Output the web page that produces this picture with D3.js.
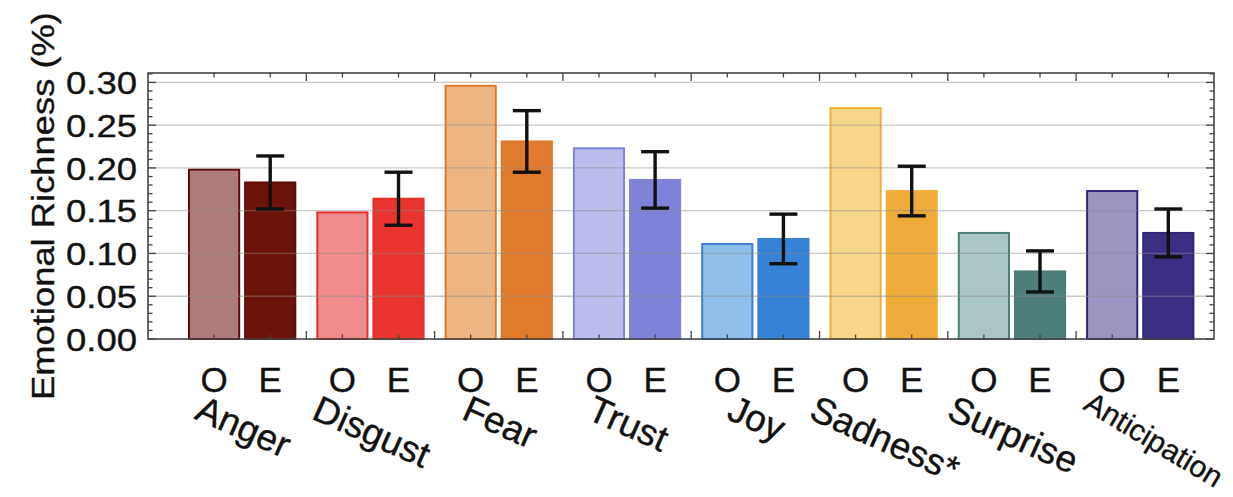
<!DOCTYPE html>
<html>
<head>
<meta charset="utf-8">
<script src="https://cdn.jsdelivr.net/npm/d3@7"></script>
<style>
  html, body { margin: 0; padding: 0; background: #fff; }
  svg { display: block; }
  text { font-family: "Liberation Sans", Arial, Helvetica, sans-serif; fill: #111; stroke: #111; stroke-width: 0.35px; }
</style>
</head>
<body>
<svg id="chart" width="1233" height="497"></svg>
<script>
// Emotion categories and the two conditions shown per category
const categories = ["Anger", "Disgust", "Fear", "Trust", "Joy", "Sadness*", "Surprise", "Anticipation"];
const conditions = ["O", "E"];

// Emotional richness per category (O = observed, E = expected with error)
const observed = [0.198, 0.148, 0.296, 0.223, 0.111, 0.270, 0.124, 0.173];
const expected = [0.183, 0.164, 0.231, 0.186, 0.117, 0.173, 0.079, 0.124];
const expectedErr = [0.031, 0.031, 0.036, 0.033, 0.029, 0.029, 0.024, 0.028];

// Axis ticks
const yTickValues = [0.00, 0.05, 0.10, 0.15, 0.20, 0.25, 0.30];
const yTickLabels = ["0.00", "0.05", "0.10", "0.15", "0.20", "0.25", "0.30"];
const yMinorValues = [0.01, 0.02, 0.03, 0.04, 0.06, 0.07, 0.08, 0.09, 0.11, 0.12, 0.13, 0.14,
                      0.16, 0.17, 0.18, 0.19, 0.21, 0.22, 0.23, 0.24, 0.26, 0.27, 0.28, 0.29, 0.31];

// Palette: light fill for O, saturated fill for E, outline per category
const observedFill = ["#b07c7b", "#f08b8e", "#ecb582", "#bcbdec", "#8ebfea", "#f5d68b", "#a9c5c4", "#9d96c2"];
const expectedFill = ["#6c130c", "#e8342d", "#e07a2c", "#7f82d9", "#3682d6", "#eeab39", "#4e7f7b", "#3a2f83"];
const outline      = ["#5e0e0a", "#e5302b", "#e0782c", "#8184d8", "#3a80cf", "#efb035", "#4a7c78", "#2f2677"];

const W = 1233;
const svg = d3.select("#chart");

// Plot frame
const frame = { left: 148, right: 1214, top: 73, bottom: 339 };
const bandStart = 178, bandEnd = 1204.4;

const x = d3.scaleBand().domain(categories).range([bandStart, bandEnd]).padding(0);
const xSub = d3.scaleBand().domain(conditions)
  .range([10, x.bandwidth() - 10]).paddingInner(0.07).paddingOuter(0);
const y = d3.scaleLinear().domain([0, 0.311]).range([frame.bottom, frame.top]);

// Build rows for bars
const rows = [];
categories.forEach((c, i) => {
  rows.push({ cat: c, cond: "O", value: observed[i], fill: observedFill[i], stroke: outline[i], i });
  rows.push({ cat: c, cond: "E", value: expected[i], err: expectedErr[i], fill: expectedFill[i], stroke: outline[i], i });
});

// Bars
const barG = svg.append("g");
barG.selectAll("rect").data(rows).join("rect")
  .attr("x", d => x(d.cat) + xSub(d.cond) + 1)
  .attr("y", d => y(d.value))
  .attr("width", xSub.bandwidth() - 2)
  .attr("height", d => y(0) - y(d.value))
  .attr("fill", d => d.fill)
  .attr("stroke", d => d.stroke)
  .attr("stroke-width", 2);

// Horizontal grid lines, drawn over the bars
svg.append("g").selectAll("line").data(yTickValues.slice(1)).join("line")
  .attr("x1", frame.left).attr("x2", frame.right)
  .attr("y1", d => y(d)).attr("y2", d => y(d))
  .attr("stroke", "#8a8a8a").attr("stroke-opacity", 0.45).attr("stroke-width", 1.3);

// Error bars on E
const errRows = rows.filter(d => d.err != null);
const cx = d => x(d.cat) + xSub(d.cond) + xSub.bandwidth() / 2;
const errG = svg.append("g").attr("stroke", "#111").attr("stroke-width", 3.4);
errG.selectAll("line.v").data(errRows).join("line").attr("class", "v")
  .attr("x1", cx).attr("x2", cx)
  .attr("y1", d => y(d.value + d.err)).attr("y2", d => y(d.value - d.err));
errG.selectAll("line.t").data(errRows).join("line").attr("class", "t")
  .attr("x1", d => cx(d) - 14).attr("x2", d => cx(d) + 14)
  .attr("y1", d => y(d.value + d.err)).attr("y2", d => y(d.value + d.err));
errG.selectAll("line.b").data(errRows).join("line").attr("class", "b")
  .attr("x1", d => cx(d) - 14).attr("x2", d => cx(d) + 14)
  .attr("y1", d => y(d.value - d.err)).attr("y2", d => y(d.value - d.err));

// Frame
svg.append("rect")
  .attr("x", frame.left).attr("y", frame.top)
  .attr("width", frame.right - frame.left).attr("height", frame.bottom - frame.top)
  .attr("fill", "none").attr("stroke", "#444").attr("stroke-width", 1.6);

// Inward y ticks on both sides (major and minor)
function yTicks(xPos, dir, values, len) {
  svg.append("g").selectAll("line").data(values).join("line")
    .attr("x1", xPos).attr("x2", xPos + dir * len)
    .attr("y1", d => y(d)).attr("y2", d => y(d))
    .attr("stroke", "#444").attr("stroke-width", 1.3);
}
yTicks(frame.left, 1, yTickValues, 8);
yTicks(frame.left, 1, yMinorValues, 4.5);
yTicks(frame.right, -1, yTickValues, 8);
yTicks(frame.right, -1, yMinorValues, 4.5);

// Top/bottom ticks: short at bar centres, longer between categories
const centreTicks = rows.map(d => cx(d));
const groupTicks = categories.slice(1).map(c => x(c));
function xTicks(yPos, dir, values, len) {
  svg.append("g").selectAll("line").data(values).join("line")
    .attr("x1", d => d).attr("x2", d => d)
    .attr("y1", yPos).attr("y2", yPos + dir * len)
    .attr("stroke", "#444").attr("stroke-width", 1.3);
}
xTicks(frame.top, 1, centreTicks, 4.5);
xTicks(frame.top, 1, groupTicks, 8);
xTicks(frame.bottom, -1, centreTicks, 4.5);
xTicks(frame.bottom, -1, groupTicks, 8);

// Y axis labels
const yAxis = d3.axisLeft(y).tickValues(yTickValues)
  .tickFormat((d, i) => yTickLabels[i]).tickSize(0).tickPadding(11);
const yAxisG = svg.append("g").attr("transform", `translate(${frame.left},0)`).call(yAxis);
yAxisG.select(".domain").remove();
yAxisG.selectAll("text")
  .attr("font-size", 31)
  .attr("dy", "0.36em")
  .attr("textLength", 71).attr("lengthAdjust", "spacingAndGlyphs")
  .style("font-family", "'Liberation Sans', Arial, sans-serif")
  .attr("fill", "#111");

// Y axis title
svg.append("text")
  .attr("transform", `translate(54,${(frame.top + frame.bottom) / 2}) rotate(-90)`)
  .attr("text-anchor", "middle")
  .attr("font-size", 31)
  .attr("textLength", 388).attr("lengthAdjust", "spacingAndGlyphs")
  .text("Emotional Richness (%)");

// O / E labels under each bar
svg.append("g").selectAll("text").data(rows).join("text")
  .attr("x", cx).attr("y", 392)
  .attr("text-anchor", "middle")
  .attr("font-size", 35)
  .text(d => d.cond);

// Rotated category labels, centred under each group; a label that would run
// past the right edge is set smaller and steeper and kept inside the canvas.
const labelTop = 394, edge = W - 4;
const catG = svg.append("g");
categories.forEach(c => {
  let fs = 37, deg = 24;
  const t = catG.append("text").attr("font-size", fs).text(c);
  let L = t.node().getComputedTextLength();
  let r = deg * Math.PI / 180;
  const gx = x(c) + x.bandwidth() / 2;
  // visible glyph box: cap height above the baseline, descender below
  let cap = 0.72 * fs, dsc = 0.21 * fs;
  let w = L * Math.cos(r) + (cap + dsc) * Math.sin(r);
  let x0 = gx - w / 2 + dsc * Math.sin(r);
  let y0 = labelTop + cap * Math.cos(r);
  // full em box right edge (ascent ~0.905em)
  const emRight = () => x0 + L * Math.cos(r) + 0.905 * fs * Math.sin(r);
  if (emRight() > edge) {
    fs = 30; deg = 31; r = deg * Math.PI / 180;
    t.attr("font-size", fs);
    L = t.node().getComputedTextLength();
    cap = 0.72 * fs;
    x0 = edge - L * Math.cos(r) - 0.905 * fs * Math.sin(r);
    y0 = (labelTop - 4) + cap * Math.cos(r);
  }
  t.attr("transform", `translate(${x0},${y0}) rotate(${deg})`);
});
</script>
</body>
</html>
